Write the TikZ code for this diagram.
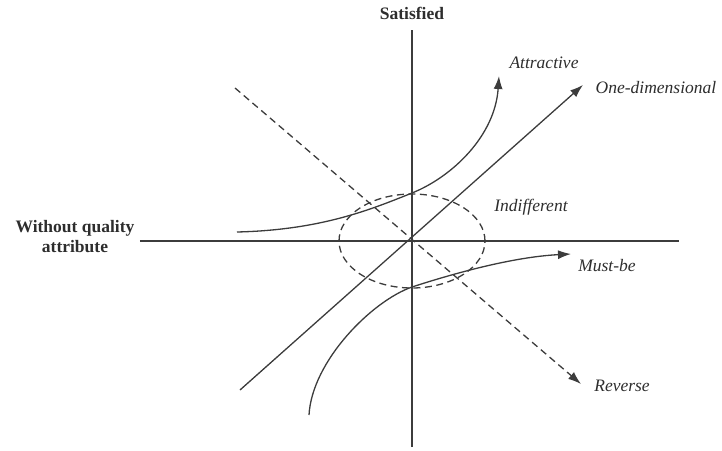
\documentclass[tikz,border=0pt]{standalone}
\usepackage{fontspec}
\setmainfont{Liberation Serif}
\usetikzlibrary{arrows.meta,positioning}
\definecolor{kanoInk}{RGB}{60,60,60}
\definecolor{kanoText}{RGB}{45,45,45}
\tikzset{
  axisline/.style={draw=kanoInk,line width=1.3pt},
  curveline/.style={draw=kanoInk,line width=1.3pt,-{Latex[length=13pt,width=9pt]}},
  dashline/.style={draw=kanoInk,line width=1.3pt,dash pattern=on 7pt off 4.5pt},
  axislabel/.style={font=\fontsize{17.5}{20}\selectfont\bfseries,text=kanoText,align=center,inner sep=0pt},
  typelabel/.style={font=\fontsize{17.5}{20}\selectfont\itshape,text=kanoText,inner sep=0pt}
}

\begin{document}
\begin{tikzpicture}[x=1pt,y=1pt]
  \useasboundingbox (-412,-209) rectangle (310,241);
  % axes
  \coordinate (O) at (0,0);
  \coordinate (yTop) at (0,211); \coordinate (yBot) at (0,-206);
  \coordinate (xLeft) at (-272,0); \coordinate (xRight) at (267,0);
  \draw[axisline] (yBot) -- (yTop);
  \draw[axisline] (xLeft) -- (xRight);
  \node[axislabel] (satisfied) at (0,228) {Satisfied};
  \node[axislabel] (without) at (-337,4) {Without quality\\attribute};
  % indifferent zone
  \draw[dashline] (O) ellipse [x radius=73, y radius=47];
  \node[typelabel] (indiff) at (119,34) {Indifferent};
  % one-dimensional
  \coordinate (oneStart) at (-172,-149); \coordinate (oneEnd) at (171,156);
  \draw[curveline] (oneStart) -- (oneEnd);
  \node[typelabel] (onedim) at (244,153) {One-dimensional};
  % reverse
  \coordinate (revStart) at (-177,153); \coordinate (revEnd) at (169,-143);
  \draw[dashline,-{Latex[length=13pt,width=9pt]}] (revStart) -- (revEnd);
  \node[typelabel] (reverse) at (210,-145) {Reverse};
  % attractive
  \coordinate (attStart) at (-175,9); \coordinate (attMid) at (0,48); \coordinate (attEnd) at (87,165);
  \draw[curveline] (attStart) .. controls (-90,11) and (-40,32) .. (attMid)
    .. controls (40,64) and (83,105) .. (attEnd);
  \node[typelabel] (attractive) at (132,178) {Attractive};
  % must-be
  \coordinate (mustStart) at (-103,-174); \coordinate (mustMid) at (0,-46); \coordinate (mustEnd) at (159,-13);
  \draw[curveline] (mustStart) .. controls (-100,-120) and (-40,-60) .. (mustMid)
    .. controls (40,-33) and (100,-16) .. (mustEnd);
  \node[typelabel] (mustbe) at (195,-25) {Must-be};
\end{tikzpicture}
\end{document}
